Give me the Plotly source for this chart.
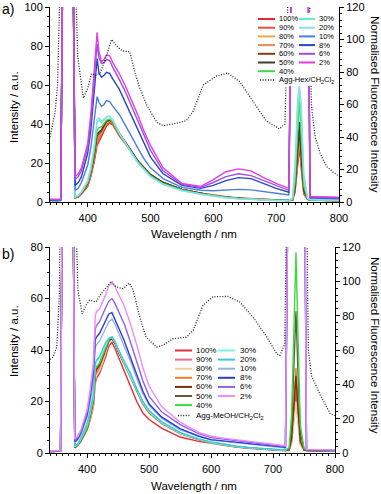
import plotly.graph_objects as go

# ---- data ----
labels = ['100%', '90%', '80%', '70%', '60%', '50%', '40%', '30%', '20%', '10%', '8%', '6%', '2%']

# a) Agg-Hex/CH2Cl2
wl_a = [340, 357, 361, 376, 380, 385, 390, 400, 405, 410, 415, 418, 422, 426, 430, 435, 440, 450, 460, 470,
        480, 490, 500, 520, 550, 580, 600, 620, 640, 660, 680, 700, 720, 726, 730, 734, 737, 740, 744, 750,
        754, 770, 800]
a_100 = [0.5, 0.8, 150, 150, 2.0, 2.5, 4, 8, 13, 20, 29, 31, 33, 36, 39, 40.5, 39.5, 34, 30, 25.5, 20.5, 17, 14, 10, 6.5, 4.5, 3.5, 2.7, 2.1, 1.7, 1.3, 1.0, 0.8, 1.0, 5, 18, 28, 17, 4, 1.3, 1.0, 0.9, 0.8]
a_90 = [0.5, 0.8, 150, 150, 2.2, 2.8, 4.3, 8.5, 14, 21, 31, 33, 35, 37.5, 40, 41, 40, 34.5, 30, 25.5, 20.5, 17, 14, 10, 6.5, 4.5, 3.4, 2.6, 2.0, 1.6, 1.3, 1.0, 0.8, 1.0, 6, 20, 31, 19, 5, 1.4, 1.0, 0.9, 0.8]
a_80 = [0.5, 0.8, 150, 150, 2.3, 3, 4.5, 9, 14.5, 22, 32, 34, 35.5, 38, 40.5, 41.5, 40.5, 35, 30.5, 26, 21, 17.5, 14, 10, 6.5, 4.5, 3.4, 2.6, 2.0, 1.6, 1.3, 1.0, 0.8, 1.0, 7, 22, 34, 21, 5, 1.4, 1.0, 0.9, 0.8]
a_70 = [0.5, 0.8, 150, 150, 2.3, 3, 4.5, 9, 14.5, 22, 33, 34.5, 36, 38.5, 41, 42, 41, 35, 30.5, 26, 21, 17.5, 14, 10, 6.5, 4.5, 3.3, 2.5, 1.9, 1.5, 1.2, 1.0, 0.8, 1.0, 6.5, 21, 33, 20, 5, 1.4, 1.0, 0.9, 0.8]
a_60 = [0.5, 0.8, 150, 150, 2.4, 3.1, 4.6, 9.5, 15, 23, 34, 35, 36.5, 39, 41.5, 42, 41, 35.5, 31, 26, 21, 17.5, 14, 10, 6.5, 4.5, 3.3, 2.5, 1.9, 1.5, 1.2, 1.0, 0.8, 1.0, 7, 24, 37, 22, 5.5, 1.4, 1.0, 0.9, 0.8]
a_50 = [0.5, 0.8, 150, 150, 2.4, 3.1, 4.7, 9.5, 15.5, 24, 35, 36, 37, 39.5, 41.5, 42, 41, 35.5, 31, 26, 21, 17.5, 14, 10, 6.5, 4.5, 3.3, 2.5, 1.9, 1.5, 1.2, 1.0, 0.8, 1.0, 8, 27, 41, 25, 6, 1.5, 1.0, 0.9, 0.8]
a_40 = [0.5, 0.8, 150, 150, 2.5, 3.2, 4.8, 10, 16, 25, 37, 38, 38.5, 40, 42, 42.5, 41, 35, 30.5, 25.5, 20.5, 17, 13.5, 9.5, 6.2, 4.3, 3.2, 2.4, 1.8, 1.4, 1.1, 0.9, 0.8, 1.2, 10, 35, 53, 33, 8, 1.6, 1.0, 0.9, 0.8]
a_30 = [0.5, 0.8, 150, 150, 2.5, 3.3, 5, 10.5, 17, 27, 41, 42, 40.5, 42, 43.5, 44, 42, 35.5, 30, 25, 20, 16.5, 13, 9, 5.8, 4, 3, 2.2, 1.7, 1.3, 1.0, 0.8, 0.8, 1.5, 15, 45, 57, 44, 12, 1.8, 1.2, 1.0, 0.9]
a_20 = [0.5, 0.8, 150, 150, 2.6, 3.4, 5.2, 11, 18, 28, 42.5, 43, 41.5, 42.5, 44, 44, 42, 35.5, 30, 25, 20, 16.5, 13, 9, 5.8, 4, 3, 2.2, 1.7, 1.3, 1.0, 0.8, 0.9, 2, 20, 52, 60, 50, 15, 2, 1.3, 1.1, 1.0]
a_10 = [0.8, 1.0, 150, 150, 6, 7, 10, 19, 28, 40, 54, 51, 49, 50, 52, 51.5, 49, 45, 39.5, 33.5, 27.5, 22, 17.5, 12, 7.5, 6, 5.8, 6.2, 6.5, 6.2, 5.5, 4.5, 3.6, 150, 150, 150, 150, 150, 150, 150, 2.0, 1.8, 1.6]
a_8 = [1.0, 1.2, 150, 150, 8.5, 10, 13, 25, 37, 55, 73.5, 66, 64, 65, 66.5, 66, 63, 58, 51, 44, 36.5, 29.5, 23, 14.5, 8.5, 7, 8.5, 11, 12.5, 12, 9.5, 7, 5, 150, 150, 150, 150, 150, 150, 150, 2.3, 2.1, 2.0]
a_6 = [1.2, 1.3, 150, 150, 11.5, 13, 16, 28, 42, 62, 81, 74, 71, 71.5, 73, 72.5, 69, 63, 56.5, 49, 41.5, 33.5, 26.5, 16, 9, 7.5, 10, 13, 14.5, 13.5, 11, 8.5, 6, 150, 150, 150, 150, 150, 150, 150, 2.5, 2.3, 2.2]
a_2 = [1.5, 1.5, 150, 150, 13, 14.5, 17.5, 30, 45, 65, 87, 77, 72, 73, 75.5, 75, 71.5, 66, 59.5, 52, 44.5, 36, 29, 17.5, 9.5, 8, 11.5, 15.5, 17, 16, 12.5, 9.5, 7, 150, 150, 150, 150, 150, 150, 150, 2.8, 2.6, 2.5]

dash_a_wl = [340, 348, 352, 355, 357, 380, 384, 393, 400, 406, 413, 420, 430, 438, 446, 455, 467, 475, 483, 494,
             510, 520, 536, 557, 568, 584, 605, 623, 642, 663, 684, 705, 714, 720, 752, 756, 762, 770, 780, 790, 800]
dash_a = [40, 55, 72, 103, 150, 150, 90, 64, 70, 79, 78, 79.5, 90, 100, 96, 93, 92.5, 80, 70, 59.6,
          49, 47, 48, 50, 56, 72, 77.5, 79.4, 74, 62, 50, 45, 48, 150, 150, 60, 40, 30, 22, 18.5, 16]

# b) Agg-MeOH/CH2Cl2
wl_b = [340, 357, 361, 376, 380, 385, 390, 400, 405, 410, 413, 415, 420, 425, 430, 435, 440, 445, 450, 460,
        470, 480, 490, 500, 520, 550, 580, 600, 620, 640, 660, 680, 700, 720, 726, 730, 734, 737, 740, 744,
        750, 754, 770, 800]
b_100 = [0.5, 0.8, 150, 150, 2.0, 3, 4.5, 9, 13, 18, 27, 29, 31, 34, 37.5, 41.5, 43, 40.5, 37.5, 32, 26, 20, 15.5, 13, 9.7, 6.2, 4.5, 3.7, 2.9, 2.3, 1.8, 1.4, 1.1, 0.9, 1.0, 4, 14, 24, 14, 3.5, 1.1, 1.0, 0.9, 0.8]
b_90 = [0.5, 0.8, 150, 150, 2.1, 3.1, 4.7, 9.5, 14, 19, 29, 31, 33, 36, 39.5, 43, 44.5, 42.5, 39.5, 34.5, 29.5, 24, 19, 15.5, 11.5, 7.5, 5.2, 4, 3.1, 2.5, 2, 1.6, 1.3, 1.1, 1.2, 5, 16, 27, 16, 4, 1.2, 1.0, 0.9, 0.8]
b_80 = [0.5, 0.8, 150, 150, 2.0, 3, 4.5, 9, 13.5, 18.5, 28, 30, 32, 35, 39, 43, 44.5, 42.5, 39.5, 34.5, 29.5, 24, 19, 15.5, 11.5, 7.5, 5.2, 4, 3.1, 2.5, 2, 1.6, 1.3, 1.1, 1.1, 4, 13, 20, 12, 3, 1.1, 1.0, 0.9, 0.8]
b_70 = [0.5, 0.8, 150, 150, 2.2, 3.2, 4.8, 9.5, 14, 19.5, 30, 32, 33.5, 36.5, 40, 43.5, 44.5, 42.5, 39.5, 34.5, 29.5, 24, 19, 15.5, 11.5, 7.5, 5.2, 4, 3.1, 2.5, 2, 1.6, 1.3, 1.1, 1.2, 6, 20, 33, 19, 5, 1.2, 1.0, 0.9, 0.8]
b_60 = [0.5, 0.8, 150, 150, 2.2, 3.2, 4.8, 9.5, 14.5, 20, 31, 32.5, 34, 37, 40.5, 43.5, 44.5, 42.5, 39.5, 35, 30, 24.5, 19.5, 16, 11.8, 7.7, 5.3, 4.1, 3.2, 2.5, 2, 1.6, 1.3, 1.1, 1.2, 5.5, 18, 30, 18, 4.5, 1.2, 1.0, 0.9, 0.8]
b_50 = [0.5, 0.8, 150, 150, 2.3, 3.3, 5, 10, 15, 20.5, 32, 33, 34.5, 37.5, 41, 44, 45, 43, 40, 35, 30, 24.5, 19.5, 16, 11.8, 7.7, 5.3, 4.1, 3.2, 2.5, 2, 1.6, 1.3, 1.1, 1.5, 10, 35, 55, 33, 8, 1.5, 1.1, 1.0, 0.9]
b_40 = [0.5, 0.8, 150, 150, 2.3, 3.3, 5, 10, 15, 21, 32.5, 33.5, 35, 38, 41.5, 44, 45, 43, 40, 35, 30, 24.5, 19.5, 16, 11.8, 7.7, 5.3, 4.1, 3.2, 2.5, 2, 1.6, 1.3, 1.1, 2, 15, 50, 78, 48, 11, 1.8, 1.2, 1.0, 0.9]
b_30 = [0.5, 0.8, 150, 150, 2.5, 3.5, 5.5, 11, 16, 22, 34, 35.5, 37, 39.5, 42.5, 44.5, 45, 43, 40, 35, 30, 24.5, 19.5, 16, 11.8, 7.7, 5.3, 4.1, 3.2, 2.5, 2, 1.6, 1.3, 1.1, 150, 150, 150, 150, 150, 150, 150, 1.2, 1.0, 0.9]
b_20 = [0.5, 0.8, 150, 150, 2.6, 3.6, 5.7, 11.5, 16.5, 23, 35, 36, 37.5, 40, 43, 44.5, 45, 43.5, 40.5, 35.5, 31, 25, 20, 16.5, 12.2, 8, 5.5, 4.3, 3.4, 2.7, 2.2, 1.8, 1.5, 1.2, 150, 150, 150, 150, 150, 150, 150, 1.2, 1.0, 0.9]
b_10 = [0.6, 0.9, 150, 150, 4, 5, 7, 14, 20, 28, 41, 42, 43.5, 46, 48.5, 51, 52, 50, 47, 41.5, 35.5, 29, 23, 18.5, 13.5, 9, 6.5, 5, 4.5, 4, 3.5, 3, 2.5, 2, 150, 150, 150, 150, 150, 150, 150, 1.2, 1.1, 1.0]
b_8 = [0.6, 0.9, 150, 150, 4.5, 5.5, 8, 15, 22, 31, 44, 45, 46.5, 49, 51.5, 54, 54.5, 52, 49, 43.5, 37, 30, 24, 19, 14, 9.5, 6.5, 5.2, 4.7, 4.2, 3.7, 3.2, 2.7, 2.2, 150, 150, 150, 150, 150, 150, 150, 1.2, 1.1, 1.0]
b_6 = [0.7, 1.0, 150, 150, 5, 6, 8.5, 16, 23.5, 33, 48, 49.5, 51, 54, 56.5, 59, 60, 58, 55.5, 50, 43, 35.5, 28, 22, 16, 11, 7.5, 6, 5.3, 4.8, 4.2, 3.7, 3, 2.5, 150, 150, 150, 150, 150, 150, 150, 1.3, 1.2, 1.1]
b_2 = [0.8, 1.0, 150, 150, 5.5, 6.7, 9, 17, 25, 35, 53, 55, 56, 58.5, 61.5, 65, 66, 64.5, 62, 57, 50, 42, 33, 26, 18, 12, 8, 6.5, 5.8, 5.2, 4.6, 4, 3.3, 2.8, 150, 150, 150, 150, 150, 150, 150, 1.4, 1.3, 1.2]

dash_b_wl = [340, 345, 351, 355, 357, 381, 385, 392, 398, 404, 414, 423, 439, 447, 458, 468, 474, 485, 495, 512,
             522, 538, 560, 571, 587, 603, 627, 646, 668, 690, 706, 711, 719, 722, 754, 757, 762, 776, 792, 800]
dash_b = [54.5, 56, 62, 91, 150, 150, 95, 81, 86, 89, 88, 93, 100, 96.7, 95.7, 99, 95, 79, 67.5, 61.7,
          62.7, 66.5, 67.5, 71.4, 86, 91, 91.2, 88, 79, 67.5, 57.8, 56.8, 63.6, 150, 150, 60, 45, 34, 23, 21.8]

series_a = [a_100, a_90, a_80, a_70, a_60, a_50, a_40, a_30, a_20, a_10, a_8, a_6, a_2]
series_b = [b_100, b_90, b_80, b_70, b_60, b_50, b_40, b_30, b_20, b_10, b_8, b_6, b_2]

colors_a = ['#e32b2b', '#e8503a', '#f3a24a', '#ee8a46', '#8a3b12', '#40402a', '#3fd94c',
            '#66f0c0', '#8cdcf2', '#4d7ed8', '#2a45c8', '#9a50e6', '#e23ee0']
colors_b = ['#e82a3a', '#ee6a8a', '#f6c99a', '#f08030', '#7b2e0e', '#5e5e46', '#3cda3c',
            '#78f4e4', '#3ec4e4', '#94b4e0', '#2a3cd8', '#8c64e8', '#f48af2']

# ---- geometry ----
W, H = 381, 494
L, R, T, B = 50, 42, 7, 41
FONT = 'Liberation Sans, Arial, sans-serif'
DOT = '1px,1.6px'


def px(x):
    return (x - L) / (W - L - R)


def py(y):
    return (H - B - y) / (H - T - B)


fig = go.Figure()
for vals, c, name in zip(series_a, colors_a, labels):
    fig.add_trace(go.Scatter(x=wl_a, y=vals, mode='lines', line=dict(color=c, width=1.4),
                             name=name, xaxis='x', yaxis='y', showlegend=False))
fig.add_trace(go.Scatter(x=dash_a_wl, y=dash_a, mode='lines', line=dict(color='#222', width=1.3, dash=DOT),
                         xaxis='x', yaxis='y2', showlegend=False))
for vals, c, name in zip(series_b, colors_b, labels):
    fig.add_trace(go.Scatter(x=wl_b, y=vals, mode='lines', line=dict(color=c, width=1.4),
                             name=name, xaxis='x2', yaxis='y3', showlegend=False))
fig.add_trace(go.Scatter(x=dash_b_wl, y=dash_b, mode='lines', line=dict(color='#222', width=1.3, dash=DOT),
                         xaxis='x2', yaxis='y4', showlegend=False))

tickfont = dict(family=FONT, size=11, color='black')
common = dict(showline=True, linecolor='black', linewidth=1, ticks='outside', ticklen=4,
              tickcolor='black', showgrid=False, zeroline=False, tickfont=tickfont, automargin=False)


def xax(dom, anchor):
    return dict(domain=dom, anchor=anchor, range=[340, 800], tickmode='linear', tick0=400, dtick=100,
                ticklabelstandoff=2,
                minor=dict(dtick=10, tick0=340, ticks='outside', ticklen=2, tickcolor='black'), **common)


def yax(anchor, rng, minor, **kw):
    return dict(anchor=anchor, range=rng, tickmode='linear', tick0=0, dtick=20,
                minor=dict(dtick=minor, ticks='outside', ticklen=2, tickcolor='black'), **kw, **common)


fig.update_layout(
    template='none',
    width=W, height=H, margin=dict(l=L, r=R, t=T, b=B),
    plot_bgcolor='white', paper_bgcolor='white',
    font=dict(family=FONT, color='black'),
    xaxis=xax([0, 1], 'y'),
    xaxis2=xax([0, px(335)], 'y3'),
    yaxis=yax('x', [0, 100], 5, domain=[py(202), 1]),
    yaxis2=yax('x', [0, 120], 4, overlaying='y', side='right'),
    yaxis3=yax('x2', [0, 80], 5, domain=[0, py(247)]),
    yaxis4=yax('x2', [0, 120], 4, overlaying='y3', side='right'),
)

ann = []
shapes = []


def note(text, x, y, size, angle=0, xanchor='center'):
    ann.append(dict(text=text, x=px(x), y=py(y), xref='paper', yref='paper', showarrow=False,
                    xanchor=xanchor, yanchor='middle', textangle=angle, font=dict(size=size, color='black')))


# panel labels and axis titles
note('a)', 8, 9, 14)
note('b)', 8, 254, 14)
for yc in (234, 486):
    note('Wavelength / nm', 194, yc, 11.5)
for yc in (107, 341):
    note('Intensity / a.u.', 14, yc, 11.5, angle=-90)
for yc in (104, 345):
    note('Normalised Fluorescence Intensity', 375, yc, 11.5, angle=90)

# hand-made two-column legends (panel a sits on a white box over the 740 nm peaks)
shapes.append(dict(type='rect', xref='paper', yref='paper', x0=px(255), x1=px(338.5), y0=py(86), y1=py(13),
                   fillcolor='white', line=dict(width=0)))
legends = [
    dict(colors=colors_a, y0=19, dy=8.7, c1=(258, 275, 277), c2=(299, 315, 317), dash_y=80,
         dash_x=(260, 274), dash_text='Agg-Hex/CH<sub>2</sub>Cl<sub>2</sub>', size=7.5),
    dict(colors=colors_b, y0=350.5, dy=9.1, c1=(175, 192, 194), c2=(218, 235, 238), dash_y=415.5,
         dash_x=(178, 191), dash_text='Agg-MeOH/CH<sub>2</sub>Cl<sub>2</sub>', size=8),
]
for lg in legends:
    for i, (name, c) in enumerate(zip(labels, lg['colors'])):
        col = lg['c1'] if i < 7 else lg['c2']
        yy = lg['y0'] + (i if i < 7 else i - 7) * lg['dy']
        shapes.append(dict(type='line', xref='paper', yref='paper', x0=px(col[0]), x1=px(col[1]),
                           y0=py(yy), y1=py(yy), line=dict(color=c, width=2)))
        note(name, col[2], yy, lg['size'], xanchor='left')
    shapes.append(dict(type='line', xref='paper', yref='paper', x0=px(lg['dash_x'][0]), x1=px(lg['dash_x'][1]),
                       y0=py(lg['dash_y']), y1=py(lg['dash_y']), line=dict(color='#222', width=1.3, dash=DOT)))
    note(lg['dash_text'], lg['c1'][2], lg['dash_y'], lg['size'], xanchor='left')

fig.update_layout(annotations=ann, shapes=shapes)
# the page's default body margin would push the figure 8px right and down
fig.write_html('out.html', config={'displayModeBar': False},
               post_script="document.body.style.margin='0';")
